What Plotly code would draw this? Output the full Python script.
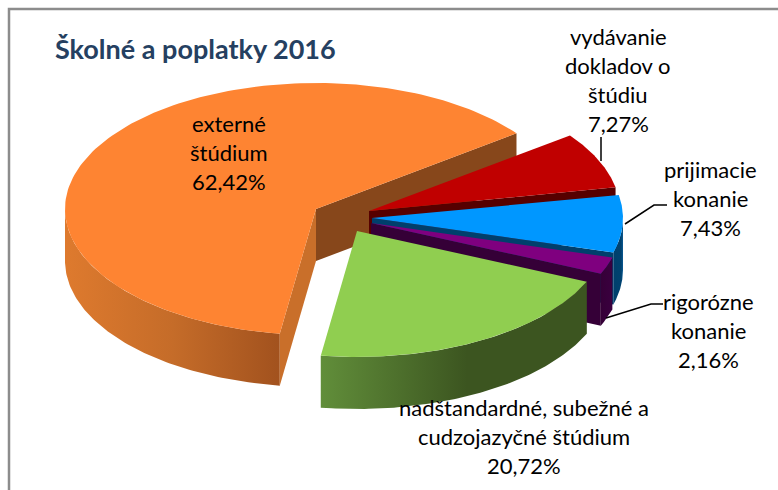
import numpy as np
import plotly.graph_objects as go

# --- data ---
categories = ["externé štúdium", "vydávanie dokladov o štúdiu", "prijimacie konanie",
              "rigorózne konanie", "nadštandardné, subežné a cudzojazyčné štúdium"]
values = [62.42, 7.27, 7.43, 2.16, 20.72]
value_labels = ["62,42%", "7,27%", "7,43%", "2,16%", "20,72%"]
label_lines = [["externé", "štúdium"], ["vydávanie", "dokladov o", "štúdiu"],
               ["prijimacie", "konanie"], ["rigorózne", "konanie"],
               ["nadštandardné, subežné a", "cudzojazyčné štúdium"]]
title_text = "Školné a poplatky 2016"

# --- geometry and style of the tilted pie ---
W, H = 778, 490
RX, RY, DEPTH = 251, 126, 52
ORANGE_START = 37.0 + 224.7          # orange runs clockwise from this angle
apexes = [(316, 209), (369, 211), (372, 218), (371, 223), (357, 231)]
tops = ["#FE8432", "#C00000", "#0097FF", "#7F007F", "#90CE50"]
faces = ["#87471B", "#560000", "#003F6C", "#350037", "#3C5520"]
walls = [
    [[0, "#DE7A2E"], [0.5, "#C56C29"], [1, "#A2521E"]],
    None,
    [[0, "#003F6C"], [0.8, "#00426F"], [1, "#0A5A94"]],
    [[0, "#350037"], [1, "#3A003F"]],
    [[0, "#618E3A"], [0.55, "#3C5520"], [1, "#3C5520"]],
]
ORANGE_NEAR_FACE = "#C96F2A"

# slice angles, computed from the values, clockwise
spans = [v / sum(values) * 360 for v in values]
ends = []
angle = ORANGE_START
for s in spans:
    ends.append((angle, angle - s))
    angle -= s


def rim(apex, a0, a1, drop=0, n=90):
    t = np.radians(np.linspace(a0, a1, n))
    return apex[0] + RX * np.cos(t), apex[1] - RY * np.sin(t) + drop


fig = go.Figure()


def poly(xs, ys, color=None, gradient=None, name=""):
    kw = dict(x=list(xs) + [xs[0]], y=list(ys) + [ys[0]], mode="lines", fill="toself",
              line=dict(width=0), hoverinfo="skip", showlegend=False, name=name)
    if gradient:
        kw["fillgradient"] = dict(type="horizontal", colorscale=gradient)
    else:
        kw["fillcolor"] = color
    fig.add_trace(go.Scatter(**kw))


def face(apex, ang, color, name):
    ex, ey = rim(apex, ang, ang, n=1)
    ex, ey = float(ex[0]), float(ey[0])
    poly([apex[0], ex, ex, apex[0]], [apex[1], ey, ey + DEPTH, apex[1] + DEPTH], color, name=name)


def wall(apex, a0, a1, gradient, name):
    """Outer wall: only the part turned toward the viewer (angles 180..360) shows."""
    lo, hi = max(min(a0, a1), 180 if min(a0, a1) >= 0 else -180), min(max(a0, a1), 360 if min(a0, a1) >= 0 else 0)
    if hi <= lo:
        return
    x1, y1 = rim(apex, lo, hi)
    x2, y2 = rim(apex, hi, lo, DEPTH)
    poly(np.r_[x1, x2], np.r_[y1, y2], gradient=gradient, name=name)


def top(apex, a0, a1, color, name):
    x, y = rim(apex, a0, a1, n=160)
    poly(np.r_[apex[0], x], np.r_[apex[1], y], color, name=name)


(o0, o1), (r0, r1), (b0, b1), (p0, p1), (g0, g1) = ends
orange_hi, orange_lo = o0, o1

# back to front
face(apexes[0], orange_lo, faces[0], categories[0])
wall(apexes[0], orange_lo, orange_hi, walls[0], categories[0])
face(apexes[0], orange_hi, ORANGE_NEAR_FACE, categories[0])
top(apexes[0], orange_lo, orange_hi, tops[0], categories[0])

face(apexes[1], r1, faces[1], categories[1])
top(apexes[1], r0, r1, tops[1], categories[1])

wall(apexes[2], b0, b1, walls[2], categories[2])
face(apexes[2], b1, faces[2], categories[2])
top(apexes[2], b0, b1, tops[2], categories[2])

wall(apexes[3], p0, p1, walls[3], categories[3])
face(apexes[3], p1, faces[3], categories[3])
top(apexes[3], p0, p1, tops[3], categories[3])

wall(apexes[4], g0, g1, walls[4], categories[4])
top(apexes[4], g0, g1, tops[4], categories[4])

# leader lines
leaders = [([601, 601], [137, 161]),
           ([625, 654, 667], [224, 205, 205]),
           ([606, 651, 663], [318, 304, 304])]
for lx, ly in leaders:
    fig.add_trace(go.Scatter(x=lx, y=ly, mode="lines", line=dict(color="#000000", width=1.5),
                             hoverinfo="skip", showlegend=False))

# labels: centre x, first line y
FONT = "Lato, Carlito, sans-serif"
LINE = 29
label_pos = [(229, 123), (618, 36), (710, 169), (708, 301), (524, 407)]
for lines, pct, (cx, y0) in zip(label_lines, value_labels, label_pos):
    for i, txt in enumerate(lines + [pct]):
        fig.add_annotation(x=cx, y=y0 + i * LINE, text=txt, showarrow=False, xanchor="center",
                           yanchor="middle", font=dict(family=FONT, size=22, color="#000000"))

fig.add_annotation(x=53, y=48, text="<b>" + title_text + "</b>", showarrow=False, xanchor="left",
                   yanchor="middle", font=dict(family=FONT, size=27, color="#254061"))

# outer frame, running off the right and bottom of the page
fig.add_trace(go.Scatter(x=[9, 9, W], y=[H, 9, 9], mode="lines",
                         line=dict(color="#8C8C8C", width=2.5), hoverinfo="skip", showlegend=False))

fig.update_layout(
    width=W, height=H, margin=dict(l=0, r=0, t=0, b=0),
    paper_bgcolor="#FFFFFF", plot_bgcolor="#FFFFFF", showlegend=False,
    xaxis=dict(range=[0, W], visible=False, fixedrange=True),
    yaxis=dict(range=[H, 0], visible=False, fixedrange=True),
)
fig.write_html("out.html", config={"displayModeBar": False},
               post_script="document.body.style.margin='0';document.body.style.overflow='hidden';window.scrollTo(0,0);")
